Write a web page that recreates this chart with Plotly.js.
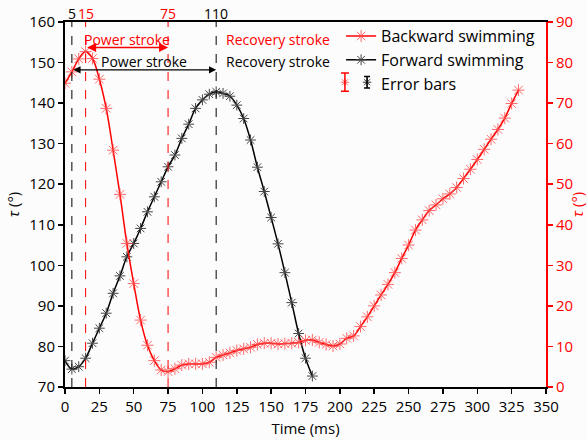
<!DOCTYPE html>
<html><head><meta charset="utf-8">
<script src="https://cdn.plot.ly/plotly-3.0.1.min.js"></script>
<style>html,body{margin:0;padding:0;background:#fcfcfc}#c{width:587px;height:440px}</style>
</head><body><div id="c"></div>
<script>
// Forward swimming (left axis, degrees)
const timeForward = [0,5,10,15,20,25,30,35,40,45,50,55,60,65,70,75,80,85,90,95,100,105,110,115,120,125,130,135,140,145,150,155,160,165,170,175,180];
const tauForward = [76.5,74.4,75.0,77.1,80.8,84.5,88.2,93.1,97.4,102.1,105.4,109.1,113.2,116.9,120.6,124.3,127.2,131.3,134.8,138.7,140.8,142.2,142.8,142.4,141.7,139.5,136.2,130.9,124.2,118.2,111.8,105.3,98.2,90.8,83.2,77.1,72.7];
// Backward swimming (right axis, degrees)
const timeBackward = [0,5,10,15,20,25,30,35,40,45,50,55,60,65,70,75,80,85,90,95,100,105,110,115,120,125,130,135,140,145,150,155,160,165,170,175,180,185,190,195,200,205,210,215,220,225,230,235,240,245,250,255,260,265,270,275,280,285,290,295,300,305,310,315,320,325,330];
const tauBackward = [74.9,77.7,80.9,82.7,81.0,75.9,68.7,58.4,47.5,35.4,25.5,16.5,10.3,6.5,4.2,3.8,4.5,5.4,5.7,5.7,5.7,6.1,7.3,7.9,8.4,9.0,9.4,9.8,10.5,10.8,10.8,10.6,10.7,10.8,11.0,11.5,11.6,11.0,10.5,10.1,10.6,12.0,12.6,14.9,17.3,20.0,22.7,25.3,28.2,31.7,35.0,38.7,41.2,43.5,44.9,46.4,47.6,49.2,51.4,53.7,56.1,58.6,61.1,63.5,66.3,69.9,73.2];
// Phase boundaries (ms)
const forwardMarks = [5,110];
const backwardMarks = [15,75];
const xTicks = [0,25,50,75,100,125,150,175,200,225,250,275,300,325,350];

const RED = '#ff0000', FONT = 'Open Sans, sans-serif';
const RED_MK = 'rgba(255,70,70,0.8)';

const traces = [
  {x: timeBackward, y: tauBackward, yaxis: 'y2', name: 'Backward swimming', mode: 'lines+markers',
   line: {color: RED, width: 1.5, shape: 'spline', smoothing: 1},
   marker: {symbol: 'asterisk-open', size: 10, color: RED_MK, line: {width: 1, color: RED_MK}}},
  {x: timeForward, y: tauForward, name: 'Forward swimming', mode: 'lines+markers',
   line: {color: '#000', width: 1.5, shape: 'spline', smoothing: 1},
   marker: {symbol: 'asterisk-open', size: 9, color: '#444', line: {width: 1, color: '#444'}}},
  {x: [null], y: [null], name: 'Error bars', mode: 'markers', marker: {size: 0.1, color: 'rgba(0,0,0,0)'}},
  // legend icons for error bars, drawn on a hidden overlay axis
  {x: [0.582, 0.628], y: [0.835, 0.835], xaxis: 'x3', yaxis: 'y3', mode: 'markers', showlegend: false, hoverinfo: 'skip',
   marker: {symbol: 'asterisk-open', size: 7, color: [RED_MK, '#333'], line: {width: 1, color: [RED_MK, '#333']}}},
  {x: [0.582], y: [0.835], xaxis: 'x3', yaxis: 'y3', mode: 'markers', showlegend: false, hoverinfo: 'skip', marker: {size: 0.1, color: 'rgba(0,0,0,0)'},
   error_y: {type: 'data', array: [0.025], color: RED, thickness: 1.5, width: 4}},
  {x: [0.628], y: [0.835], xaxis: 'x3', yaxis: 'y3', mode: 'markers', showlegend: false, hoverinfo: 'skip', marker: {size: 0.1, color: 'rgba(0,0,0,0)'},
   error_y: {type: 'data', array: [0.016], color: '#000', thickness: 1.5, width: 3}}
];

const shapes = [];
const annotations = [];
forwardMarks.forEach(t => {
  shapes.push({type: 'line', xref: 'x', yref: 'paper', x0: t, x1: t, y0: 0, y1: 1, line: {color: '#000', width: 1, dash: 'dash'}});
  annotations.push({xref: 'x', yref: 'paper', x: t, y: 1, yanchor: 'bottom', showarrow: false, text: String(t), font: {family: FONT, size: 14, color: '#000'}, yshift: -3});
});
backwardMarks.forEach(t => {
  shapes.push({type: 'line', xref: 'x', yref: 'paper', x0: t, x1: t, y0: 0, y1: 1, line: {color: RED, width: 1, dash: 'dash'}});
  annotations.push({xref: 'x', yref: 'paper', x: t, y: 1, yanchor: 'bottom', showarrow: false, text: String(t), font: {family: FONT, size: 14, color: RED}, yshift: -3});
});
// arrows
annotations.push({x: backwardMarks[1], y: 153.7, ax: backwardMarks[0], ay: 153.7, axref: 'x', ayref: 'y', xref: 'x', yref: 'y',
  showarrow: true, arrowside: 'end+start', arrowhead: 2, arrowsize: 1.2, arrowwidth: 1.5, arrowcolor: RED, text: ''});
annotations.push({x: forwardMarks[1], y: 148.2, ax: forwardMarks[0], ay: 148.2, axref: 'x', ayref: 'y', xref: 'x', yref: 'y',
  showarrow: true, arrowside: 'end+start', arrowhead: 2, arrowsize: 1.2, arrowwidth: 1.2, arrowcolor: '#000', text: ''});
annotations.push({x: 44.8, y: 155.6, xref: 'x', yref: 'y', showarrow: false, text: 'Power stroke', font: {family: FONT, size: 14, color: RED}});
annotations.push({x: 57.8, y: 150.3, xref: 'x', yref: 'y', showarrow: false, text: 'Power stroke', font: {family: FONT, size: 14, color: '#000'}});
annotations.push({x: 115.5, y: 155.6, xref: 'x', yref: 'y', xanchor: 'left', showarrow: false, text: 'Recovery stroke', font: {family: FONT, size: 14, color: RED}});
annotations.push({x: 115.5, y: 150.3, xref: 'x', yref: 'y', xanchor: 'left', showarrow: false, text: 'Recovery stroke', font: {family: FONT, size: 14, color: '#000'}});

const layout = {
  width: 587, height: 440,
  margin: {l: 65, r: 41, t: 22, b: 53},
  paper_bgcolor: '#fcfcfc', plot_bgcolor: '#fcfcfc',
  font: {family: FONT, size: 15, color: '#000'},
  showlegend: true,
  legend: {x: 0.574, y: 1.008, xanchor: 'left', yanchor: 'top', bgcolor: 'rgba(0,0,0,0)', font: {family: FONT, size: 16}, tracegroupgap: 0},
  xaxis: {range: [0, 350], tickvals: xTicks, ticks: 'outside', ticklen: 5, tickwidth: 1.5, tickcolor: '#000',
    showline: true, linecolor: '#000', linewidth: 2, mirror: true, showgrid: false, zeroline: false,
    title: {text: 'Time (ms)', font: {family: FONT, size: 15}, standoff: 8}, tickfont: {family: FONT, size: 15}},
  yaxis: {range: [70, 160], dtick: 10, ticks: 'outside', ticklen: 5, tickwidth: 1.5, tickcolor: '#000',
    showline: true, linecolor: '#000', linewidth: 2, showgrid: false, zeroline: false,
    title: {text: '<i>τ</i> (°)', font: {family: FONT, size: 15}, standoff: 6}, tickfont: {family: FONT, size: 15}},
  yaxis2: {range: [0, 90], dtick: 10, overlaying: 'y', side: 'right', ticks: 'outside', ticklen: 5, tickwidth: 1.5, tickcolor: RED,
    showline: true, linecolor: RED, linewidth: 2, showgrid: false, zeroline: false, color: RED,
    title: {text: '<i>τ</i> (°)', font: {family: FONT, size: 15, color: RED}, standoff: 16}, tickfont: {family: FONT, size: 15, color: RED}},
  xaxis3: {overlaying: 'x', range: [0, 1], visible: false},
  yaxis3: {overlaying: 'y', range: [0, 1], visible: false},
  shapes: shapes, annotations: annotations
};
Plotly.newPlot('c', traces, layout, {displayModeBar: false, staticPlot: true});
</script></body></html>
